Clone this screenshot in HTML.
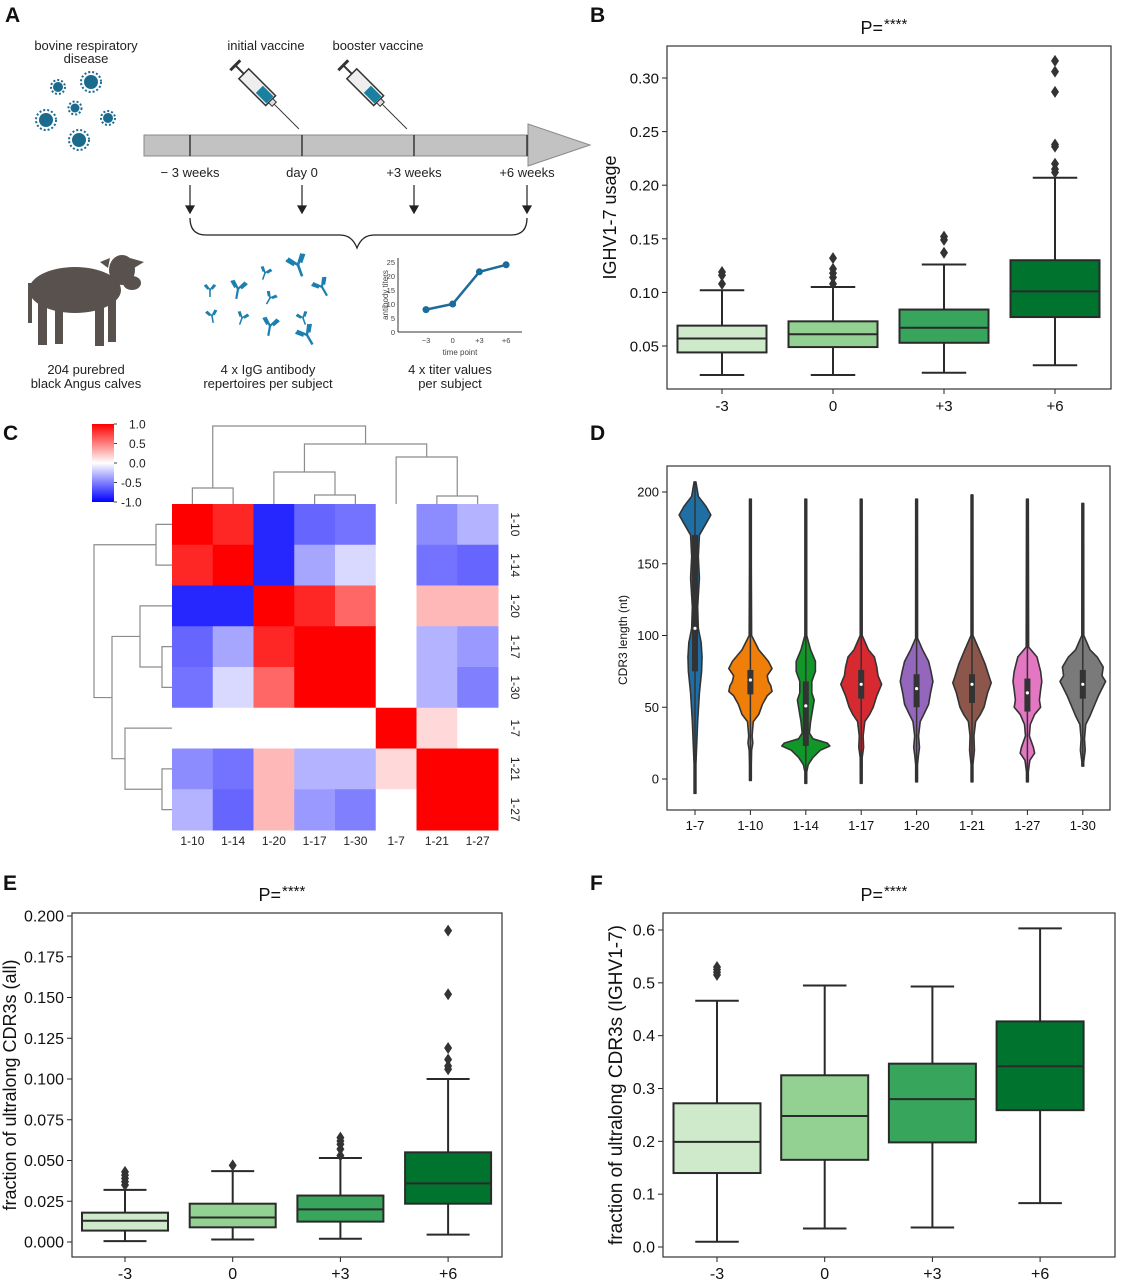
<!DOCTYPE html>
<html><head><meta charset="utf-8"><style>
body{margin:0;background:#fff}
svg{display:block;font-family:"Liberation Sans","DejaVu Sans",sans-serif}
</style></head><body>
<svg id="fig" width="1134" height="1280" viewBox="0 0 1134 1280" xmlns="http://www.w3.org/2000/svg">
<rect width="1134" height="1280" fill="#fff"/>
<g font-weight="bold" font-size="21" fill="#111">
<text x="5" y="22">A</text>
<text x="590" y="22">B</text>
<text x="3" y="440">C</text>
<text x="590" y="440">D</text>
<text x="3" y="890">E</text>
<text x="590" y="890">F</text>
</g>
<!-- Panel A -->
<g id="panelA" font-size="13" fill="#222" text-anchor="middle">
<text x="86" y="50">bovine respiratory</text>
<text x="86" y="63">disease</text>
<text x="266" y="50">initial vaccine</text>
<text x="378" y="50">booster vaccine</text>
<rect x="144" y="135" width="385" height="21" fill="#c2c2c2" stroke="#8a8a8a"/>
<polygon points="528,124 590,145 528,166" fill="#c2c2c2" stroke="#8a8a8a"/>
<g stroke="#222" stroke-width="1.3">
<line x1="190" y1="135" x2="190" y2="156"/><line x1="302" y1="135" x2="302" y2="156"/><line x1="414" y1="135" x2="414" y2="156"/><line x1="527" y1="135" x2="527" y2="156"/>
</g>
<text x="190" y="177">− 3 weeks</text>
<text x="302" y="177">day 0</text>
<text x="414" y="177">+3 weeks</text>
<text x="527" y="177">+6 weeks</text>
<g stroke="#222" stroke-width="1.2" fill="#222">
<line x1="190" y1="185" x2="190" y2="210"/><polygon points="186,206 194,206 190,213"/>
<line x1="302" y1="185" x2="302" y2="210"/><polygon points="298,206 306,206 302,213"/>
<line x1="414" y1="185" x2="414" y2="210"/><polygon points="410,206 418,206 414,213"/>
<line x1="527" y1="185" x2="527" y2="210"/><polygon points="523,206 531,206 527,213"/>
</g>
<path d="M190,218 Q190,235 206,235 L340,235 Q352,235 357,248 Q362,235 374,235 L511,235 Q527,235 527,218" fill="none" stroke="#222" stroke-width="1.3"/>
<g fill="#1b6b8e">
<circle cx="58" cy="87" r="5"/><circle cx="91" cy="82" r="7"/><circle cx="75" cy="108" r="4.5"/><circle cx="46" cy="120" r="7"/><circle cx="108" cy="118" r="5"/><circle cx="79" cy="140" r="7"/>
<g stroke="#1b6b8e" stroke-width="2" stroke-dasharray="2 2" fill="none">
<circle cx="58" cy="87" r="7"/><circle cx="91" cy="82" r="10"/><circle cx="75" cy="108" r="6.5"/><circle cx="46" cy="120" r="10"/><circle cx="108" cy="118" r="7"/><circle cx="79" cy="140" r="10"/>
</g></g>
<g transform="translate(265,95) rotate(45)">
<line x1="-42" y1="0" x2="-30" y2="0" stroke="#333" stroke-width="2"/><line x1="-42" y1="-7" x2="-42" y2="7" stroke="#333" stroke-width="3"/>
<rect x="-30" y="-7" width="38" height="14" fill="#eee" stroke="#333" stroke-width="1.5"/><rect x="-8" y="-5" width="15" height="10" fill="#1b7fa0"/>
<rect x="8" y="-3" width="5" height="6" fill="#ddd" stroke="#333"/><line x1="13" y1="0" x2="48" y2="0" stroke="#333" stroke-width="1"/>
</g>
<g transform="translate(373,95) rotate(45)">
<line x1="-42" y1="0" x2="-30" y2="0" stroke="#333" stroke-width="2"/><line x1="-42" y1="-7" x2="-42" y2="7" stroke="#333" stroke-width="3"/>
<rect x="-30" y="-7" width="38" height="14" fill="#eee" stroke="#333" stroke-width="1.5"/><rect x="-8" y="-5" width="15" height="10" fill="#1b7fa0"/>
<rect x="8" y="-3" width="5" height="6" fill="#ddd" stroke="#333"/><line x1="13" y1="0" x2="48" y2="0" stroke="#333" stroke-width="1"/>
</g>
<g fill="#58514d">
<ellipse cx="75" cy="290" rx="46" ry="23"/><ellipse cx="122" cy="270" rx="13" ry="15"/><ellipse cx="132" cy="283" rx="9" ry="7"/>
<rect x="38" y="295" width="9" height="50"/><rect x="55" y="300" width="8" height="44"/><rect x="95" y="298" width="9" height="48"/><rect x="108" y="296" width="8" height="46"/>
<polygon points="110,258 100,262 108,268"/><polygon points="130,258 144,262 134,268"/><rect x="28" y="283" width="4" height="40"/>
</g>
<text x="86" y="374">204 purebred</text>
<text x="86" y="388">black Angus calves</text>
<g stroke="#1b7fb0" stroke-width="2.2" fill="none" id="abs"></g>
<text x="268" y="374">4 x IgG antibody</text>
<text x="268" y="388">repertoires per subject</text>
<g id="titer"></g>
<text x="450" y="374">4 x titer values</text>
<text x="450" y="388">per subject</text>
</g>
<g id="panelB"></g>
<g id="panelC"></g>
<g id="panelD"></g>
<g id="panelE"></g>
<g id="panelF"></g>
</svg>
<script>
const NS="http://www.w3.org/2000/svg";
function mk(parent,tag,attrs,text){const e=document.createElementNS(NS,tag);for(const k in attrs)e.setAttribute(k,attrs[k]);if(text!==undefined)e.textContent=text;parent.appendChild(e);return e;}

// ---------- Panel A mini titer chart data ----------
const titerTimes=["-3","0","+3","+6"];
const titerValues=[8,10,21.5,24];
const titerTicks=[0,5,10,15,20,25];
// ---------- Boxplot data ----------
const timeCats=["-3","0","+3","+6"];
const boxColors=["#cfeacb","#93d193","#37a55c","#00732f"];
const bQ1=[0.044,0.049,0.053,0.077], bMed=[0.057,0.061,0.067,0.101], bQ3=[0.069,0.073,0.084,0.130];
const bLo=[0.023,0.023,0.025,0.032], bHi=[0.102,0.105,0.126,0.207];
const bOut=[[0.108,0.116,0.119],[0.108,0.114,0.118,0.122,0.132],[0.137,0.149,0.152],[0.212,0.215,0.220,0.236,0.238,0.287,0.306,0.316]];
const bTicks=[0.05,0.10,0.15,0.20,0.25,0.30];
const eQ1=[0.007,0.009,0.0125,0.0235], eMed=[0.013,0.015,0.020,0.036], eQ3=[0.018,0.0235,0.0285,0.055];
const eLo=[0.0005,0.0015,0.002,0.0045], eHi=[0.032,0.0435,0.0515,0.100];
const eOut=[[0.035,0.037,0.039,0.041,0.043],[0.047],[0.053,0.057,0.060,0.062,0.064],[0.106,0.108,0.112,0.119,0.152,0.191]];
const eTicks=[0,0.025,0.05,0.075,0.1,0.125,0.15,0.175,0.2];
const fQ1=[0.14,0.165,0.198,0.259], fMed=[0.199,0.248,0.28,0.342], fQ3=[0.272,0.325,0.347,0.427];
const fLo=[0.01,0.035,0.037,0.083], fHi=[0.466,0.495,0.493,0.603];
const fOut=[[0.515,0.52,0.525,0.53],[],[],[]];
const fTicks=[0,0.1,0.2,0.3,0.4,0.5,0.6];
// ---------- Heatmap data ----------
const genes=["1-10","1-14","1-20","1-17","1-30","1-7","1-21","1-27"];
const corrRows=[
[1.0,0.85,-0.85,-0.6,-0.55,0,-0.45,-0.3],
[0.85,1.0,-0.85,-0.35,-0.15,0,-0.55,-0.6],
[-0.85,-0.85,1.0,0.85,0.6,0,0.28,0.28],
[-0.6,-0.35,0.85,1,1,0,-0.3,-0.4],
[-0.55,-0.15,0.6,1,1,0,-0.3,-0.5],
[0,0,0,0,0,1,0.15,0],
[-0.45,-0.55,0.28,-0.3,-0.3,0.15,1,1],
[-0.3,-0.6,0.28,-0.4,-0.5,0,1,1]];
const cbarTicks=[1.0,0.5,0.0,-0.5,-1.0];
// ---------- Violin data ----------
const vCats=["1-7","1-10","1-14","1-17","1-20","1-21","1-27","1-30"];
const vColors=["#1f6fa5","#f07f0a","#11962a","#d62a30","#9467bd","#8c564b","#e377c2","#7a7a7a"];
const vYs=[
[-10,10,40,60,75,85,95,105,120,140,155,170,178,184,190,197,207],
[-1,10,20,25,30,40,45,52,58,61,65,68,72,77,82,90,100,150,195],
[-3,5,10,15,20,23,25,28,32,40,50,55,60,68,75,82,90,100,195],
[-3,15,22,30,40,45,50,58,62,66,72,78,85,90,100,195],
[-2,10,17,22,30,40,45,52,60,68,75,82,90,98,195],
[-2,10,20,30,40,45,50,60,67,72,80,90,100,198],
[-2,5,13,18,22,30,38,45,50,55,62,68,75,85,92,195],
[9,12,20,28,38,44,50,58,63,68,72,78,85,90,100,192]];
const vWs=[
[0,0.04,0.12,0.2,0.3,0.32,0.28,0.15,0.12,0.2,0.15,0.2,0.5,0.72,0.5,0.15,0],
[0,0.03,0.05,0.1,0.07,0.12,0.35,0.5,0.7,0.9,0.85,0.75,0.7,0.9,0.75,0.35,0.05,0.02,0],
[0,0.03,0.1,0.3,0.6,1.0,0.9,0.3,0.15,0.2,0.3,0.35,0.25,0.25,0.4,0.4,0.2,0.03,0],
[0,0.04,0.1,0.08,0.15,0.35,0.5,0.65,0.75,0.85,0.7,0.65,0.55,0.3,0.04,0],
[0,0.03,0.08,0.12,0.08,0.15,0.3,0.5,0.58,0.68,0.6,0.5,0.25,0.04,0],
[0,0.03,0.1,0.08,0.15,0.35,0.5,0.65,0.8,0.7,0.55,0.3,0.04,0],
[0,0.03,0.1,0.3,0.25,0.08,0.12,0.3,0.55,0.5,0.55,0.6,0.55,0.4,0.05,0],
[0,0.03,0.1,0.07,0.12,0.3,0.45,0.65,0.8,0.95,0.8,0.85,0.6,0.3,0.04,0]];
const vQ1=[75,59,23,56,50,53,47,56], vMed=[105,69,51,66,63,66,60,66], vQ3=[170,76,68,76,73,73,70,76];
const vTicks=[0,50,100,150,200];
// ---------- Antibody icon positions (layout, not data) ----------
const abPos=[[298,265,1.2,-20],[265,273,0.7,20],[238,289,1,10],[322,287,1,-30],[210,290,0.7,0],[270,298,0.7,30],[212,316,0.7,-10],[242,318,0.7,20],[303,318,0.7,-20],[270,326,1,10],[307,335,1.1,-30]];

// Antibodies
(function(){const g=document.getElementById('abs');
abPos.forEach((p,i)=>{const a=mk(g,'g',{transform:`translate(${p[0]},${p[1]}) rotate(${p[3]}) scale(${p[2]})`});


mk(a,'path',{d:'M0,10 L0,0 L-6,-8 M0,0 L6,-8 M-3,-1 L-8,-7 M3,-1 L8,-7'});});})();

// Titer mini chart
(function(){const g=document.getElementById('titer');
const x0=398,x1=522,yb=332,yt=258;
const xs=i=>426+i*26.7, ys=v=>yb-(v/25)*70;
mk(g,'line',{x1:x0,y1:yt,x2:x0,y2:yb,stroke:'#333','stroke-width':1});
mk(g,'line',{x1:x0,y1:yb,x2:x1,y2:yb,stroke:'#333','stroke-width':1});
titerTicks.forEach(t=>{const tx=mk(g,'text',{x:x0-3,y:ys(t)+3,'font-size':7.5,'text-anchor':'end',fill:'#444'},String(t));

});
titerTimes.forEach((t,i)=>{const tx=mk(g,'text',{x:xs(i),y:yb+11,'font-size':7.5,'text-anchor':'middle',fill:'#444'},t.replace('-','−'));

});
mk(g,'text',{x:460,y:355,'font-size':8,'text-anchor':'middle',fill:'#444'},'time point');
mk(g,'text',{x:0,y:0,'font-size':8,'text-anchor':'middle',fill:'#444',transform:`translate(388,295) rotate(-90)`},'antibody titers');
const pts=titerValues.map((v,i)=>xs(i)+','+ys(v)).join(' ');
const pl=mk(g,'polyline',{points:pts,fill:'none',stroke:'#1b6b9b','stroke-width':2.5});


titerValues.forEach((v,i)=>{const c=mk(g,'circle',{cx:xs(i),cy:ys(v),r:3.5,fill:'#1b6b9b'});

});})();

// Boxplot panel
function boxPanel(id,cfg){const g=document.getElementById(id);
const {L,R,T,B,yv0,yp0,yv1,yp1,cx0,dx,bw,q1,med,q3,lo,hi,out,ticks,fmt,ylab,ylx,tfs,lfs}=cfg;
const ys=v=>yp0+(v-yv0)*(yp1-yp0)/(yv1-yv0);
const xs=i=>cx0+i*dx;
const cxm=(L+R)/2;
const t=mk(g,'text',{x:cxm-6,y:T-12,'font-size':18,'text-anchor':'end',fill:'#111'},'P=');


mk(g,'text',{x:cxm-5,y:T-17,'font-size':15,'text-anchor':'start',fill:'#111'},'****');
ticks.forEach(v=>{const y=ys(v);mk(g,'line',{x1:L-5,y1:y,x2:L,y2:y,stroke:'#222','stroke-width':1});
const tx=mk(g,'text',{x:L-8,y:y+5.5,'font-size':tfs,'text-anchor':'end',fill:'#111'},fmt(v));

});
const yl=mk(g,'text',{x:0,y:0,'font-size':lfs,'text-anchor':'middle',fill:'#111',transform:`translate(${ylx},${(T+B)/2}) rotate(-90)`},ylab);


timeCats.forEach((c,i)=>{const x=xs(i);
mk(g,'line',{x1:x,y1:B,x2:x,y2:B+5,stroke:'#222'});
const tx=mk(g,'text',{x:x,y:B+22,'font-size':tfs,'text-anchor':'middle',fill:'#111'},c);


const bx=mk(g,'g',{});


const sc='#2a2a2a';
mk(bx,'line',{x1:x,y1:ys(q3[i]),x2:x,y2:ys(hi[i]),stroke:sc,'stroke-width':2});
mk(bx,'line',{x1:x,y1:ys(q1[i]),x2:x,y2:ys(lo[i]),stroke:sc,'stroke-width':2});
mk(bx,'line',{x1:x-bw/4,y1:ys(hi[i]),x2:x+bw/4,y2:ys(hi[i]),stroke:sc,'stroke-width':2});
mk(bx,'line',{x1:x-bw/4,y1:ys(lo[i]),x2:x+bw/4,y2:ys(lo[i]),stroke:sc,'stroke-width':2});
mk(bx,'rect',{x:x-bw/2,y:ys(q3[i]),width:bw,height:ys(q1[i])-ys(q3[i]),fill:boxColors[i],stroke:sc,'stroke-width':2});
mk(bx,'line',{x1:x-bw/2,y1:ys(med[i]),x2:x+bw/2,y2:ys(med[i]),stroke:sc,'stroke-width':2});
out[i].forEach(v=>{const y=ys(v);const d=mk(bx,'polygon',{points:`${x},${y-6} ${x+4},${y} ${x},${y+6} ${x-4},${y}`,fill:'#333'});

});});
mk(g,'rect',{x:L,y:T,width:R-L,height:B-T,fill:'none',stroke:'#333','stroke-width':1.2});}

boxPanel('panelB',{L:667,R:1111,T:46,B:389,yv0:0.05,yp0:346,yv1:0.30,yp1:78,cx0:722,dx:111,bw:89,q1:bQ1,med:bMed,q3:bQ3,lo:bLo,hi:bHi,out:bOut,ticks:bTicks,fmt:v=>v.toFixed(2),ylab:'IGHV1-7 usage',ylx:616,tfs:15,lfs:18});
boxPanel('panelE',{L:72,R:502,T:913,B:1257,yv0:0,yp0:1242,yv1:0.2,yp1:916,cx0:125,dx:107.7,bw:86,q1:eQ1,med:eMed,q3:eQ3,lo:eLo,hi:eHi,out:eOut,ticks:eTicks,fmt:v=>v.toFixed(3),ylab:'fraction of ultralong CDR3s (all)',ylx:16,tfs:16,lfs:18});
boxPanel('panelF',{L:663,R:1115,T:913,B:1257,yv0:0,yp0:1247,yv1:0.6,yp1:930,cx0:717,dx:107.7,bw:87,q1:fQ1,med:fMed,q3:fQ3,lo:fLo,hi:fHi,out:fOut,ticks:fTicks,fmt:v=>v.toFixed(1),ylab:'fraction of ultralong CDR3s (IGHV1-7)',ylx:622,tfs:16,lfs:19});

// Heatmap
(function(){const g=document.getElementById('panelC');
const X0=172,Y0=504,S=40.75;
const col=v=>{let r,gg,b;if(v>=0){r=255;gg=b=Math.round((1-v)*255);}else{r=gg=Math.round((1+v)*255);b=255;}return `rgb(${r},${gg},${b})`;};
corrRows.forEach((row,i)=>row.forEach((v,j)=>{const c=mk(g,'rect',{x:X0+j*S,y:Y0+i*S,width:S+0.5,height:S+0.5,fill:col(v)});

}));
genes.forEach((gn,i)=>{const c=X0+(i+0.5)*S;
const tx=mk(g,'text',{x:c,y:Y0+8*S+15,'font-size':12,'text-anchor':'middle',fill:'#222'},gn);


const ty=mk(g,'text',{x:0,y:0,'font-size':12,'text-anchor':'middle',fill:'#222',transform:`translate(${X0+8*S+13},${Y0+(i+0.5)*S}) rotate(90)`},gn);

});
const dg=mk(g,'g',{fill:'none',stroke:'#8c8c8c','stroke-width':1.2});


const cc=i=>X0+(i+0.5)*S;
function U(a,ya,b,yb,h){mk(dg,'path',{d:`M${a},${ya} L${a},${h} L${b},${h} L${b},${yb}`});}
U(cc(0),Y0,cc(1),Y0,488);U(cc(3),Y0,cc(4),Y0,495);U(cc(6),Y0,cc(7),Y0,496);
const m34=(cc(3)+cc(4))/2,m67=(cc(6)+cc(7))/2;
U(cc(2),Y0,m34,495,472);U(cc(5),Y0,m67,496,457);
const a=(cc(2)+m34)/2,b=(cc(5)+m67)/2;U(a,472,b,457,444);
U((cc(0)+cc(1))/2,488,(a+b)/2,444,426);
function V(a,xa,b,xb,h){mk(dg,'path',{d:`M${xa},${a} L${h},${a} L${h},${b} L${xb},${b}`});}
const rc=i=>Y0+(i+0.5)*S;
V(rc(0),X0,rc(1),X0,156);V(rc(3),X0,rc(4),X0,162);V(rc(6),X0,rc(7),X0,162);
const r34=(rc(3)+rc(4))/2,r67=(rc(6)+rc(7))/2;
V(rc(2),X0,r34,162,140);V(rc(5),X0,r67,162,125);
const ra=(rc(2)+r34)/2,rb=(rc(5)+r67)/2;V(ra,140,rb,125,112);
V((rc(0)+rc(1))/2,156,(ra+rb)/2,112,94);
const defs=mk(g,'defs',{});const lg=mk(defs,'linearGradient',{id:'bwr',x1:0,y1:0,x2:0,y2:1});
mk(lg,'stop',{offset:'0','stop-color':'#ff0000'});mk(lg,'stop',{offset:'0.5','stop-color':'#ffffff'});mk(lg,'stop',{offset:'1','stop-color':'#0000ff'});
const cb=mk(g,'rect',{x:92,y:424,width:22,height:78,fill:'url(#bwr)'});


cbarTicks.forEach(v=>{const y=424+(1-v)/2*78;mk(g,'line',{x1:114,y1:y,x2:117,y2:y,stroke:'#444'});
const tx=mk(g,'text',{x:v<0?121:129,y:y+4.5,'font-size':12,fill:'#222'},v.toFixed(1));

});})();

// Violin panel
(function(){const g=document.getElementById('panelD');
const L=667,R=1110,T=466,B=810;const ys=v=>779-(v)*1.435;const xs=i=>695+i*55.4;const MW=24;
vTicks.forEach(v=>{const y=ys(v);mk(g,'line',{x1:L-5,y1:y,x2:L,y2:y,stroke:'#222'});
const tx=mk(g,'text',{x:L-8,y:y+4.5,'font-size':13,'text-anchor':'end',fill:'#111'},String(v));

});
const yl=mk(g,'text',{x:0,y:0,'font-size':12,'text-anchor':'middle',fill:'#111',transform:`translate(627,640) rotate(-90)`},'CDR3 length (nt)');


vCats.forEach((c,i)=>{const x=xs(i);
mk(g,'line',{x1:x,y1:B,x2:x,y2:B+5,stroke:'#222'});
const tx=mk(g,'text',{x:x,y:B+20,'font-size':13,'text-anchor':'middle',fill:'#111'},c);


const vg=mk(g,'g',{});


const yv=vYs[i],wv=vWs[i];
const w=k=>Math.max(wv[k]*(i===0?22:MW),0.9);
const right=yv.map((y,k)=>`${x+w(k)},${ys(y)}`);
const left=yv.map((y,k)=>`${x-w(k)},${ys(y)}`).reverse();
mk(vg,'polygon',{points:right.concat(left).join(' '),fill:vColors[i],stroke:'#333','stroke-width':1.6,'stroke-linejoin':'round'});
mk(vg,'line',{x1:x,y1:ys(yv[0]),x2:x,y2:ys(yv[yv.length-1]),stroke:'#333','stroke-width':1.5});
mk(vg,'rect',{x:x-3,y:ys(vQ3[i]),width:6,height:ys(vQ1[i])-ys(vQ3[i]),fill:'#333'});
mk(vg,'circle',{cx:x,cy:ys(vMed[i]),r:1.6,fill:'#fff'});});
mk(g,'rect',{x:L,y:T,width:R-L,height:B-T,fill:'none',stroke:'#333','stroke-width':1.2});})();
</script>
</body></html>
